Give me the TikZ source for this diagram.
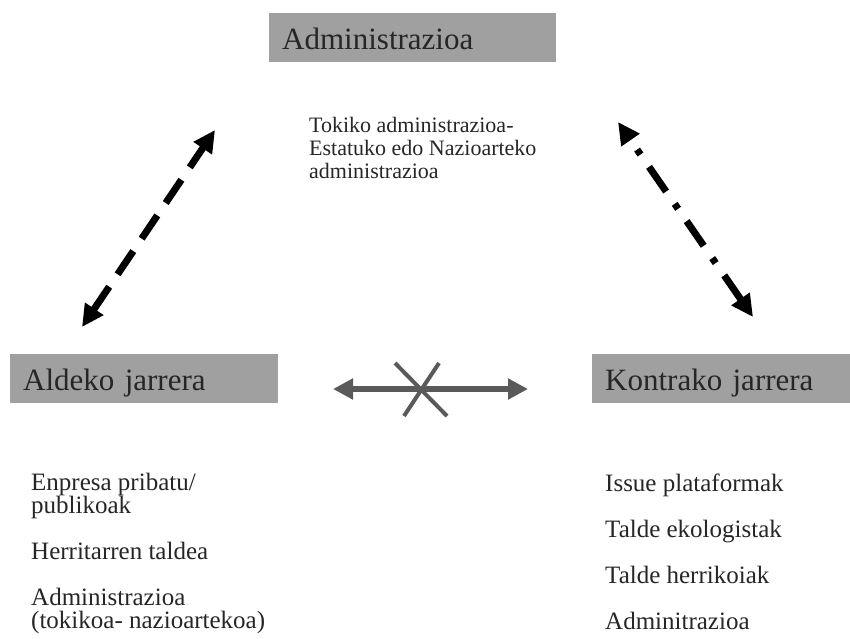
\documentclass[tikz,border=0pt]{standalone}
\usepackage{fontspec}
\setmainfont{Liberation Serif}
\usetikzlibrary{arrows.meta}
\definecolor{boxgray}{HTML}{A0A0A0}
\definecolor{inkgray}{HTML}{5A5A5A}
\begin{document}
\begin{tikzpicture}[x=1pt,y=-1pt,every node/.style={text=black!85,inner sep=0pt},
  titlebox/.style={fill=boxgray,anchor=north west,minimum height=49pt,inner xsep=13pt,text height=24pt,text depth=0pt,font=\fontsize{31}{34}\selectfont},
  listtext/.style={anchor=base west,align=left,font=\fontsize{25}{23}\selectfont},
  dashedarrow/.style={line width=7pt,{Triangle[length=22pt,width=21pt]}-{Triangle[length=22pt,width=21pt]}}]
\useasboundingbox (0,0) rectangle (850,638);
% Three actors and what stands behind each
\node[titlebox,minimum width=287pt,text width=261pt] (admin) at (269,13) {Administrazioa};
\node[titlebox,minimum width=268pt,text width=242pt] (aldeko) at (10,354) {Aldeko jarrera};
\node[titlebox,minimum width=258pt,text width=232pt] (kontrako) at (592,354) {Kontrako jarrera};
% multi-line texts: base is the last line
\node[anchor=base west,align=left,font=\fontsize{22}{23}\selectfont] (adminsub) at (309,178) {Tokiko administrazioa-\\Estatuko edo Nazioarteko\\administrazioa};
\node[listtext] (aldekolist) at (31,628) {Enpresa pribatu/\\publikoak\\[23pt]Herritarren taldea\\[23pt]Administrazioa\\(tokikoa- nazioartekoa)};
\node[listtext] (kontrakolist) at (605,629) {Issue plataformak\\[23pt]Talde ekologistak\\[23pt]Talde herrikoiak\\[23pt]Adminitrazioa};
% arrow ends
\coordinate (alde-a) at (82,327); \coordinate (admin-a) at (215,130);
\coordinate (admin-k) at (618,122); \coordinate (kontra-k) at (753,317);
\coordinate (alde-k) at (333,389); \coordinate (kontra-a) at (528,389);
\coordinate (x1) at (395,363); \coordinate (x2) at (447,416);
\coordinate (x3) at (439,363); \coordinate (x4) at (404,416);
\draw[dashedarrow,dash pattern=on 28pt off 15pt] (alde-a) -- (admin-a);
\draw[dashedarrow,dash pattern=on 30pt off 15pt on 6pt off 15pt] (kontra-k) -- (admin-k);
\draw[inkgray,line width=6pt,{Triangle[length=20pt,width=20pt]}-{Triangle[length=20pt,width=20pt]}] (alde-k) -- (kontra-a);
\draw[inkgray,line width=4pt] (x1) -- (x2); \draw[inkgray,line width=4pt] (x3) -- (x4);
\end{tikzpicture}
\end{document}
